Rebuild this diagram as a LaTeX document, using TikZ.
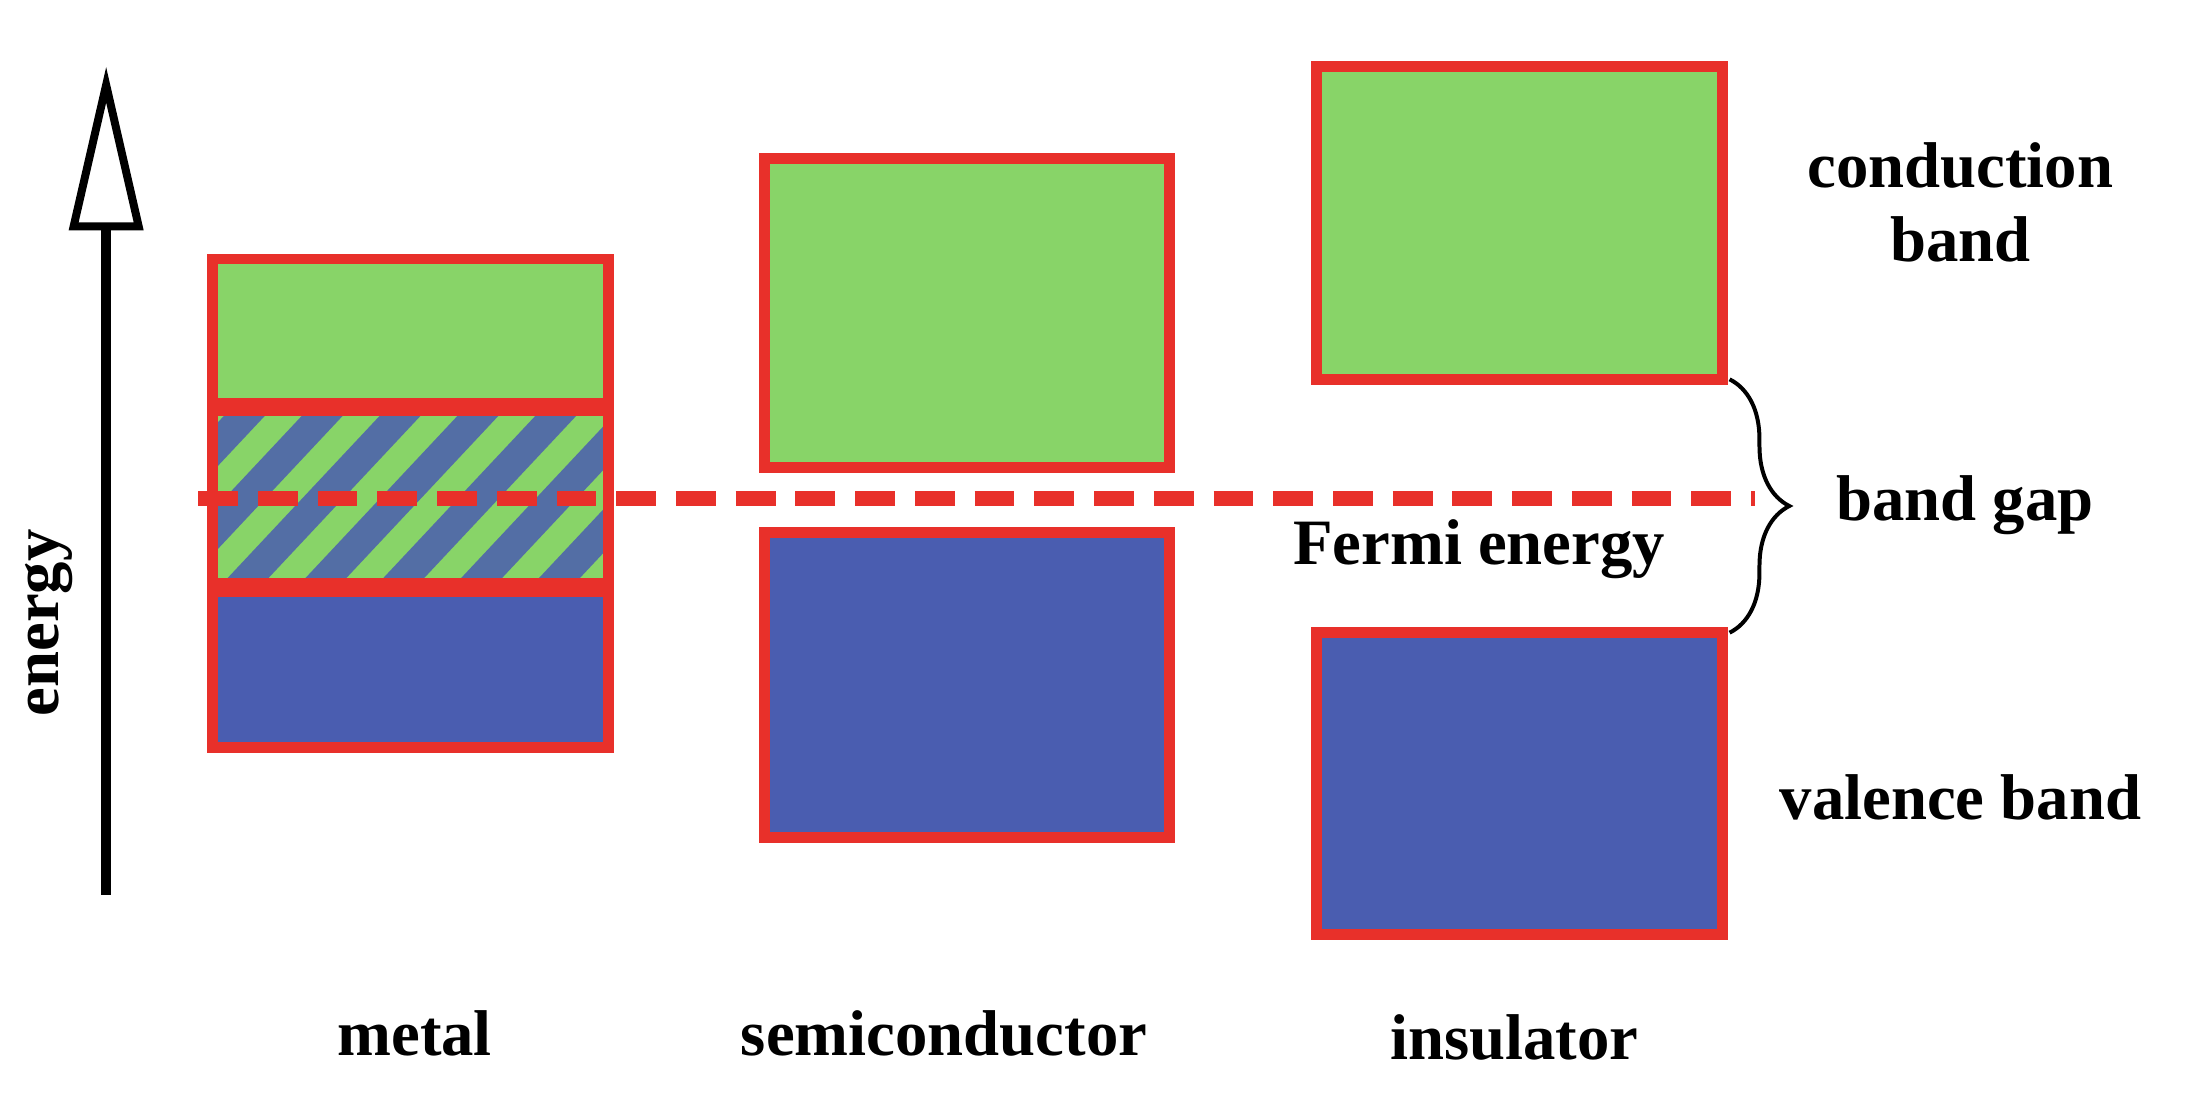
\documentclass[tikz,border=0pt]{standalone}
\usepackage{fontspec}
\setmainfont{Liberation Serif}
\usetikzlibrary{decorations.pathreplacing,arrows.meta}
\definecolor{cgreen}{HTML}{88D468}
\definecolor{cblue}{HTML}{4A5DB0}
\definecolor{cred}{HTML}{E8302A}
\begin{document}
\begin{tikzpicture}[x=0.01cm,y=0.01cm,
  band/.style={draw=cred,line width=2.2pt},
  lbl/.style={font=\fontsize{13}{15}\selectfont\bfseries,align=center}]
\useasboundingbox (0,0) rectangle (1560,790);
\fill[white] (0,0) rectangle (1560,790);
% energy arrow
\draw[line width=2pt] (75,158) -- (75,630);
\draw[line width=1.6pt,fill=white] (52,630) -- (75,730) -- (98,630) -- cycle;
\node[lbl,rotate=90] (en) at (35,350) {energy};
% metal
\fill[cgreen] (150,500) rectangle (430,378);
\begin{scope}
\clip (150,500) rectangle (430,378);
\foreach \i in {-3,...,8} {
  \draw[cblue,line width=6pt,opacity=0.85] (100+\i*55,360) -- (100+\i*55+150,520);
}
\end{scope}
\draw[band,fill=cgreen] (150,607) rectangle (430,505);
\draw[band] (150,500) rectangle (430,378);
\draw[band,fill=cblue] (150,372) rectangle (430,262);
% semiconductor
\draw[band,fill=cgreen] (540,678) rectangle (826,460);
\draw[band,fill=cblue] (540,414) rectangle (826,198);
% insulator
\draw[band,fill=cgreen] (930,743) rectangle (1217,522);
\draw[band,fill=cblue] (930,343) rectangle (1217,130);
% fermi
\draw[cred,line width=3pt,dash pattern=on 8pt off 4pt] (140,438) -- (1240,438);
\node[lbl] (fe) at (1045,402) {Fermi energy};
% brace
\coordinate (bt) at (1222,522);
\coordinate (bb) at (1222,343);
\draw[line width=0.8pt,decorate,decoration={brace,amplitude=12pt}] (bt) -- (bb);
\node[lbl,anchor=west] (bg) at (1285,433) {band gap};
\node[lbl] (cb) at (1385,647) {conduction\\band};
\node[lbl] (vb) at (1385,227) {valence band};
\node[lbl] (m) at (293,60) {metal};
\node[lbl] (s) at (667,60) {semiconductor};
\node[lbl] (i) at (1070,57) {insulator};
\end{tikzpicture}
\end{document}
